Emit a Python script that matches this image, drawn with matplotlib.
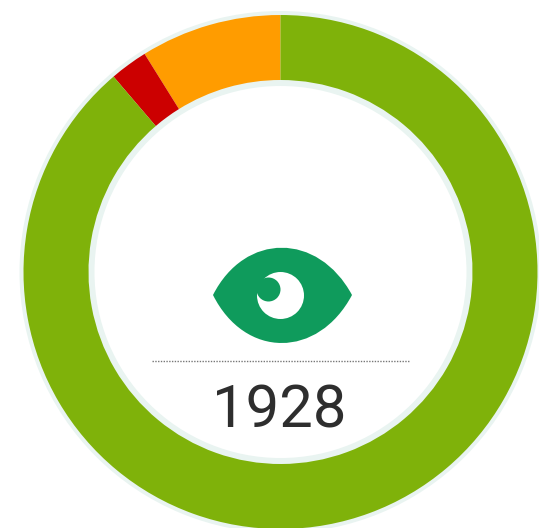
import matplotlib
matplotlib.use("Agg")
import matplotlib.pyplot as plt
from matplotlib.path import Path
from matplotlib.patches import PathPatch, Circle

# segment counts, going counterclockwise from the top
segment_names = ["warning", "critical", "ok"]
segment_values = [171, 46, 1711]
segment_colors = ["#ff9c00", "#cc0000", "#7fb20a"]
total_label = "1928"

H = 528
cx, cy = 280.5, H - 272
fig = plt.figure(figsize=(5.39, 5.28), dpi=100)
ax = fig.add_axes([0, 0, 1, 1])

# pale halo behind the ring
ax.pie([1], colors=["#e9f4f1"], center=(cx, cy), radius=261,
       wedgeprops=dict(width=75, linewidth=0))
ax.pie(segment_values, colors=segment_colors, startangle=90, counterclock=True,
       center=(cx, cy), radius=257, wedgeprops=dict(width=65, linewidth=0))

ax.set_xlim(0, 539)
ax.set_ylim(0, H)
ax.set_aspect("equal")
ax.axis("off")

# eye icon
eye_color = "#0f9b5c"
verts = [(213, H - 295), (245, H - 232), (318, H - 232), (352, H - 295),
         (318, H - 359), (245, H - 359), (213, H - 295), (213, H - 295)]
codes = [Path.MOVETO, Path.CURVE4, Path.CURVE4, Path.CURVE4,
         Path.CURVE4, Path.CURVE4, Path.CURVE4, Path.CLOSEPOLY]
ax.add_patch(PathPatch(Path(verts, codes), fc=eye_color, ec="none"))
ax.add_patch(Circle((280.5, H - 295.5), 23.5, fc="white", ec="none"))
ax.add_patch(Circle((268.5, H - 289.5), 12, fc=eye_color, ec="none"))

# dotted separator
ax.plot([152, 410], [H - 361, H - 361], color="#777777", lw=1, ls=(0, (1, 1)))

ax.text(279, H - 405.5, total_label, ha="center", va="center_baseline",
        fontsize=43, family="Roboto", color="#2e2e2e")

fig.savefig("out.png", dpi=100, facecolor="white")
